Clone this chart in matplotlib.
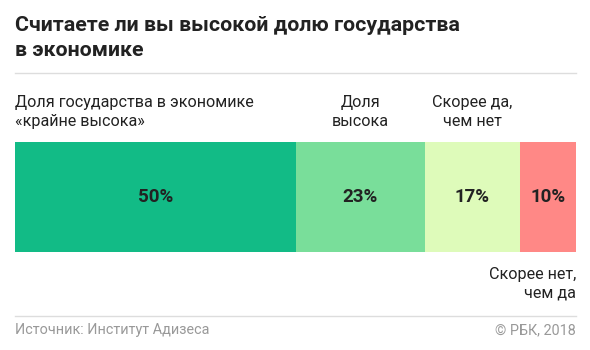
import matplotlib.pyplot as plt

plt.rcParams['font.family'] = ['Roboto', 'DejaVu Sans']

# shares of answers, %
answers = ['Доля государства в экономике\n«крайне высока»', 'Доля\nвысока',
           'Скорее да,\nчем нет', 'Скорее нет,\nчем да']
shares = [50, 23, 17, 10]
colors = ['#12bb86', '#79de9a', '#defbba', '#ff8886']

W, H = 590, 350
fig = plt.figure(figsize=(W / 100, H / 100), dpi=100)


def px(x, y):
    return x / W, 1 - y / H


# bar area in pixels
x0, x1, y0, y1 = 15, 576, 142, 252
ax = fig.add_axes([x0 / W, 1 - y1 / H, (x1 - x0) / W, (y1 - y0) / H])
left = 0
for s, c in zip(shares, colors):
    ax.barh(0, s, left=left, height=1, color=c, linewidth=0)
    ax.text(left + s / 2, 0, f'{s}%', ha='center', va='center',
            fontsize=13.5, fontweight='bold', color='#222222')
    left += s
ax.set_xlim(0, sum(shares))
ax.set_ylim(-0.5, 0.5)
ax.axis('off')

# category labels above / below the bar
cum = [sum(shares[:i]) for i in range(len(shares))]
lab_kw = dict(fontsize=11.6, color='#222222', linespacing=1.33)
fig.text(*px(x0, 112), answers[0], ha='left', va='center', **lab_kw)
for i in (1, 2):
    cx = x0 + (x1 - x0) * (cum[i] + shares[i] / 2) / 100
    fig.text(*px(cx, 112), answers[i], ha='center', va='center',
             multialignment='center', **lab_kw)
fig.text(*px(x1, 284), answers[3], ha='right', va='center',
         multialignment='right', **lab_kw)

# title
fig.text(*px(x0, 38), 'Считаете ли вы высокой долю государства\nв экономике',
         ha='left', va='center', fontsize=15.4, fontweight='bold',
         color='#222222', linespacing=1.38)

# separators
for yy in (73, 316):
    fig.add_artist(plt.Line2D([x0 / W, x1 / W], [1 - yy / H] * 2,
                              color='#dddddd', linewidth=1))

fig.text(*px(x0, 330), 'Источник: Институт Адизеса', ha='left', va='center',
         fontsize=10.4, color='#999999')
fig.text(*px(x1, 330), '© РБК, 2018', ha='right', va='center',
         fontsize=10.4, color='#999999')

fig.savefig('out.png', dpi=100, facecolor='white')
